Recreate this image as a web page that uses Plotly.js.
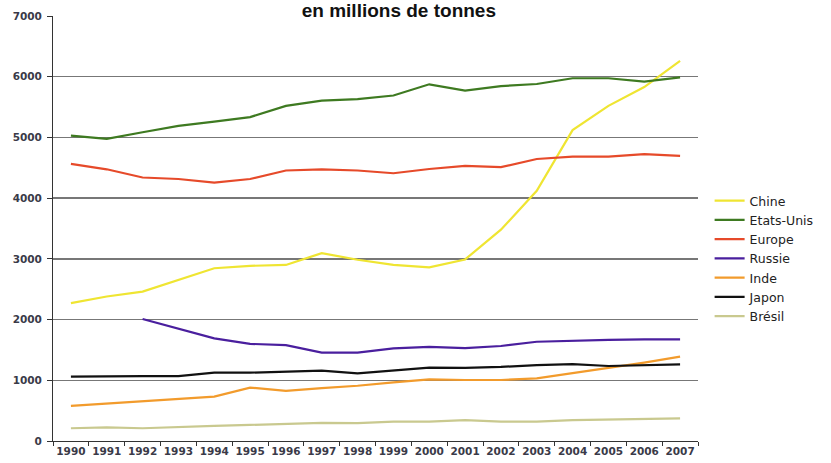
<!DOCTYPE html>
<html>
<head>
<meta charset="utf-8">
<script src="https://cdn.plot.ly/plotly-3.0.1.min.js"></script>
<style>html,body{margin:0;padding:0;background:#fff}#chart{width:831px;height:463px}</style>
</head>
<body>
<div id="chart"></div>
<script>
const years = ['1990','1991','1992','1993','1994','1995','1996','1997','1998','1999','2000','2001','2002','2003','2004','2005','2006','2007'];
const chine = [2270,2380,2460,2650,2845,2885,2900,3095,2985,2900,2860,2990,3480,4120,5120,5520,5830,6260];
const etatsUnis = [5030,4975,5085,5190,5260,5335,5520,5605,5630,5690,5875,5770,5845,5880,5975,5975,5920,5990];
const europe = [4565,4475,4340,4315,4255,4315,4455,4475,4455,4410,4480,4530,4510,4645,4685,4685,4725,4695];
const russie = [null,null,2010,1855,1690,1600,1580,1455,1455,1525,1550,1530,1565,1635,1655,1665,1675,1675];
const inde = [580,620,660,690,730,880,825,870,910,965,1015,1005,1005,1030,1115,1195,1290,1390];
const japon = [1060,1070,1070,1070,1125,1125,1140,1160,1115,1160,1210,1205,1220,1250,1265,1235,1250,1262];
const bresil = [210,225,210,235,250,265,280,300,295,318,318,345,320,320,345,357,357,374];
const seriesNames = ['Chine','Etats-Unis','Europe','Russie','Inde','Japon','Brésil'];
const seriesData = [chine, etatsUnis, europe, russie, inde, japon, bresil];
const colors = ['#efe532','#3e7a21','#e64a2a','#4a1f9e','#f29b2c','#111111','#c9c98f'];
const yTicks = [0,1000,2000,3000,4000,5000,6000,7000];
const gridVals = [1000,2000,3000,4000,5000,6000];

const traces = seriesData.map((d,i) => ({
  x: years, y: d, name: seriesNames[i], type: 'scatter', mode: 'lines',
  line: {color: colors[i], width: 2.2}, connectgaps: false
}));
// invisible trace for grid overlay axis
traces.push({x: years, y: gridVals.map(()=>null), yaxis: 'y2', showlegend: false, hoverinfo: 'skip', mode: 'lines'});

const tickFont = {family: 'DejaVu Sans', size: 10.5, color: '#3a3a48', weight: 'bold'};
const layout = {
  width: 831, height: 463,
  margin: {l: 53, r: 116, t: 16, b: 22},
  paper_bgcolor: '#fff', plot_bgcolor: 'rgba(0,0,0,0)',
  title: {text: '<b>en millions de tonnes</b>', font: {family: 'Liberation Sans', size: 19, color: '#111'},
          x: 0.48, xanchor: 'center', yref: 'container', y: 1.0, yanchor: 'top', pad: {t: 4}},
  showlegend: true,
  legend: {x: 1.018, xanchor: 'left', y: 0.6, yanchor: 'top', font: {family: 'DejaVu Sans', size: 12.5, color: '#222'},
           bgcolor: 'rgba(0,0,0,0)', itemwidth: 30, tracegroupgap: 0},
  xaxis: {type: 'category', range: [-0.5, 17.5], showline: true, linecolor: '#333', linewidth: 1,
          ticks: 'outside', ticklen: 4, tickcolor: '#333', tickson: 'boundaries', showgrid: false,
          tickfont: tickFont, tickangle: 0, fixedrange: true},
  yaxis: {range: [0, 7000], tickvals: yTicks, showline: true, linecolor: '#333', linewidth: 1,
          ticks: 'outside', ticklen: 5, tickcolor: '#333', showgrid: false, zeroline: false,
          tickfont: tickFont, ticklabelstandoff: 3},
  yaxis2: {range: [0, 7000], overlaying: 'y', tickvals: gridVals, showticklabels: false, showgrid: true,
           gridcolor: '#777', gridwidth: 1.5, zeroline: false, showline: false, ticks: ''}
};
Plotly.newPlot('chart', traces, layout, {displayModeBar: false, staticPlot: true});
</script>
</body>
</html>
